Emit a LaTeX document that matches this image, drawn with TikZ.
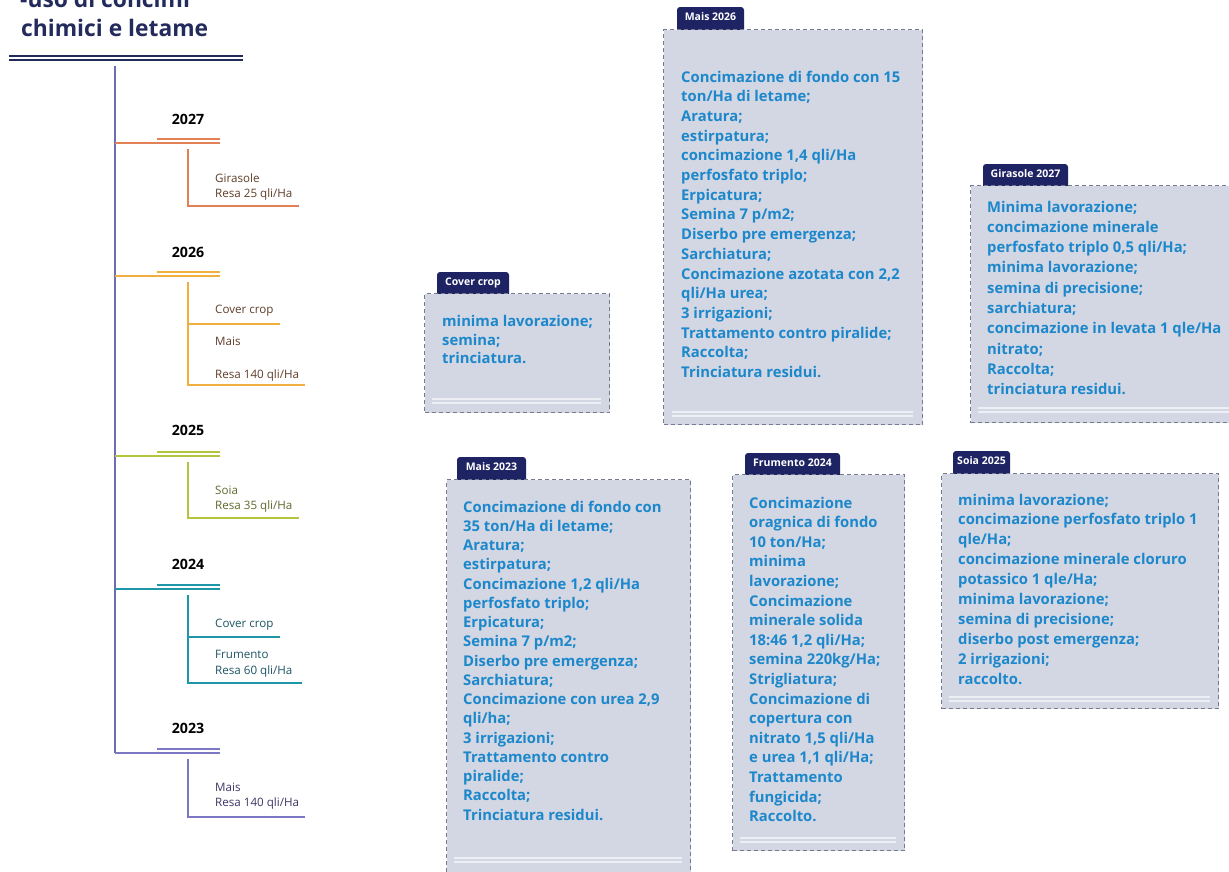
\documentclass[tikz,border=0pt]{standalone}
\usepackage{fontspec}
\setmainfont{Open Sans}

\definecolor{titlenavy}{RGB}{35,42,92}
\definecolor{spine}{RGB}{108,110,175}
\definecolor{c27}{RGB}{226,128,86}
\definecolor{c26}{RGB}{240,176,64}
\definecolor{c25}{RGB}{180,196,60}
\definecolor{c24}{RGB}{30,150,170}
\definecolor{c23}{RGB}{125,120,195}
\definecolor{t27}{RGB}{95,62,42}
\definecolor{t25}{RGB}{95,105,45}
\definecolor{t24}{RGB}{30,85,100}
\definecolor{t23}{RGB}{60,55,100}
\definecolor{cardfill}{RGB}{211,214,227}
\definecolor{cardedge}{RGB}{118,122,145}
\definecolor{tabnavy}{RGB}{30,35,100}
\definecolor{cardblue}{RGB}{28,136,203}
\definecolor{cardrulec}{RGB}{238,239,245}

% body of a card: lines set with a given baseline distance
\newcommand\cardlines[2]{\parbox[t]{400pt}{\fontsize{14.8}{#1}\selectfont\bfseries\raggedright #2}}

\tikzset{
  titletext/.style={anchor=base west, inner sep=0pt, text=titlenavy,
    font=\fontsize{22.8}{28}\selectfont\bfseries},
  titlerule/.style={draw=titlenavy, line width=1.4pt},
  tl/.style={line width=1.3pt},
  yeartext/.style={anchor=mid, inner sep=0pt, text=black,
    font=\fontsize{14.2}{16}\selectfont\bfseries},
  croptext/.style={anchor=mid west, inner sep=0pt,
    font=\fontsize{11.6}{14}\selectfont},
  card/.style={draw=cardedge, fill=cardfill, line width=1pt,
    dash pattern=on 4pt off 3pt, anchor=north west, inner sep=0pt},
  tabshape/.style={fill=tabnavy, rounded corners=3pt},
  tabtext/.style={anchor=mid, inner sep=0pt, text=white,
    font=\fontsize{10.5}{12}\selectfont\bfseries},
  cardtext/.style={anchor=base west, inner sep=0pt, text=cardblue},
  cardrule/.style={draw=cardrulec, line width=1.3pt},
}

\begin{document}
\begin{tikzpicture}[x=1pt,y=-1pt]
\clip (0,0) rectangle (1229,871);
\fill[white] (0,0) rectangle (1229,871);

% ---------- title ----------
\node[titletext] (title1) at (20,7) {-uso di concimi};
\node[titletext] (title2) at (21,36) {chimici e letame};
\draw[titlerule] (9,56) -- (243,56);
\draw[titlerule] (9,60) -- (243,60);

% ---------- timeline ----------
\draw[spine, tl] (115,66) -- (115,753);

% 2027
\node[yeartext] (y27) at (188,122) {2027};
\draw[c27, tl] (115,143) -- (220,143);
\draw[c27, tl] (157,139) -- (220,139);
\draw[c27, tl] (188,149) -- (188,206) -- (299,206);
\node[croptext, text=t27] (g27a) at (215,180) {Girasole};
\node[croptext, text=t27] (g27b) at (215,195) {Resa 25 qli/Ha};

% 2026
\node[yeartext] (y26) at (188,255) {2026};
\draw[c26, tl] (115,276) -- (220,276);
\draw[c26, tl] (157,272) -- (220,272);
\draw[c26, tl] (188,282) -- (188,385) -- (305,385);
\draw[c26, tl] (188,324) -- (280,324);
\node[croptext, text=t27] (m26a) at (215,311) {Cover crop};
\node[croptext, text=t27] (m26b) at (215,343) {Mais};
\node[croptext, text=t27] (m26c) at (215,376) {Resa 140 qli/Ha};

% 2025
\node[yeartext] (y25) at (188,433) {2025};
\draw[c25, tl] (115,456) -- (220,456);
\draw[c25, tl] (157,452) -- (220,452);
\draw[c25, tl] (188,462) -- (188,518) -- (299,518);
\node[croptext, text=t25] (s25a) at (215,492) {Soia};
\node[croptext, text=t25] (s25b) at (215,507) {Resa 35 qli/Ha};

% 2024
\node[yeartext] (y24) at (188,567) {2024};
\draw[c24, tl] (115,589) -- (220,589);
\draw[c24, tl] (157,585) -- (220,585);
\draw[c24, tl] (188,595) -- (188,683) -- (302,683);
\draw[c24, tl] (188,637) -- (280,637);
\node[croptext, text=t24] (f24a) at (215,625) {Cover crop};
\node[croptext, text=t24] (f24b) at (215,656) {Frumento};
\node[croptext, text=t24] (f24c) at (215,672) {Resa 60 qli/Ha};

% 2023
\node[yeartext] (y23) at (188,731) {2023};
\draw[c23, tl] (115,753) -- (220,753);
\draw[c23, tl] (157,749) -- (220,749);
\draw[c23, tl] (188,759) -- (188,817) -- (305,817);
\node[croptext, text=t23] (m23a) at (215,789) {Mais};
\node[croptext, text=t23] (m23b) at (215,804) {Resa 140 qli/Ha};

% ---------- cards ----------
% Cover crop
\fill[tabshape] (437,294) -- (437,272) -- (509,272) -- (509,294);
\node[tabtext] (cctab) at (473,282.5) {Cover crop};
\node[card, minimum width=185, minimum height=119] (cc) at (424,293) {};
\draw[cardrule] (432,399) -- (601,399);
\draw[cardrule] (432,403) -- (601,403);
\node[cardtext] (cctext) at (442,326.5) {\cardlines{18.6}{minima lavorazione;\\semina;\\trinciatura.}};

% Mais 2026
\fill[tabshape] (677,30) -- (677,7) -- (744,7) -- (744,30);
\node[tabtext] (m26tab) at (710.5,18) {Mais 2026};
\node[card, minimum width=259, minimum height=395] (m26) at (663,29) {};
\draw[cardrule] (672,412) -- (913,412);
\draw[cardrule] (672,416) -- (913,416);
\node[cardtext] (m26text) at (681,82) {\cardlines{19.7}{Concimazione di fondo con 15\\ton/Ha di letame;\\Aratura;\\estirpatura;\\concimazione 1,4 qli/Ha\\perfosfato triplo;\\Erpicatura;\\Semina 7 p/m2;\\Diserbo pre emergenza;\\Sarchiatura;\\Concimazione azotata con 2,2\\qli/Ha urea;\\3 irrigazioni;\\Trattamento contro piralide;\\Raccolta;\\Trinciatura residui.}};

% Girasole 2027
\fill[tabshape] (983,186) -- (983,164) -- (1068,164) -- (1068,186);
\node[tabtext] (g27tab) at (1025.5,174.5) {Girasole 2027};
\node[card, minimum width=275, minimum height=237] (g27) at (970,185) {};
\draw[cardrule] (978,408) -- (1235,408);
\draw[cardrule] (978,412) -- (1235,412);
\node[cardtext] (g27text) at (987,212) {\cardlines{20.3}{Minima lavorazione;\\concimazione minerale\\perfosfato triplo 0,5 qli/Ha;\\minima lavorazione;\\semina di precisione;\\sarchiatura;\\concimazione in levata 1 qle/Ha\\nitrato;\\Raccolta;\\trinciatura residui.}};

% Mais 2023
\fill[tabshape] (457,480) -- (457,457) -- (526,457) -- (526,480);
\node[tabtext] (m23tab) at (491.5,468) {Mais 2023};
\node[card, minimum width=244, minimum height=405] (m23) at (446,479) {};
\draw[cardrule] (454,858) -- (682,858);
\draw[cardrule] (454,862) -- (682,862);
\node[cardtext] (m23text) at (463,512) {\cardlines{19.25}{Concimazione di fondo con\\35 ton/Ha di letame;\\Aratura;\\estirpatura;\\Concimazione 1,2 qli/Ha\\perfosfato triplo;\\Erpicatura;\\Semina 7 p/m2;\\Diserbo pre emergenza;\\Sarchiatura;\\Concimazione con urea 2,9\\qli/ha;\\3 irrigazioni;\\Trattamento contro\\piralide;\\Raccolta;\\Trinciatura residui.}};

% Frumento 2024
\fill[tabshape] (745,475) -- (745,453) -- (840,453) -- (840,475);
\node[tabtext] (f24tab) at (792.5,463.5) {Frumento 2024};
\node[card, minimum width=172, minimum height=376] (f24) at (732,474) {};
\draw[cardrule] (740,838) -- (896,838);
\draw[cardrule] (740,842) -- (896,842);
\node[cardtext] (f24text) at (749,508) {\cardlines{19.6}{Concimazione\\oragnica di fondo\\10 ton/Ha;\\minima\\lavorazione;\\Concimazione\\minerale solida\\18:46 1,2 qli/Ha;\\semina 220kg/Ha;\\Strigliatura;\\Concimazione di\\copertura con\\nitrato 1,5 qli/Ha\\e urea 1,1 qli/Ha;\\Trattamento\\fungicida;\\Raccolto.}};

% Soia 2025
\fill[tabshape] (953,474) -- (953,451) -- (1010,451) -- (1010,474);
\node[tabtext] (s25tab) at (981.5,462) {Soia 2025};
\node[card, minimum width=277, minimum height=235] (s25) at (941,473) {};
\draw[cardrule] (949,697) -- (1210,697);
\draw[cardrule] (949,701) -- (1210,701);
\node[cardtext] (s25text) at (958,505) {\cardlines{19.9}{minima lavorazione;\\concimazione perfosfato triplo 1\\qle/Ha;\\concimazione minerale cloruro\\potassico 1 qle/Ha;\\minima lavorazione;\\semina di precisione;\\diserbo post emergenza;\\2 irrigazioni;\\raccolto.}};

\end{tikzpicture}
\end{document}
